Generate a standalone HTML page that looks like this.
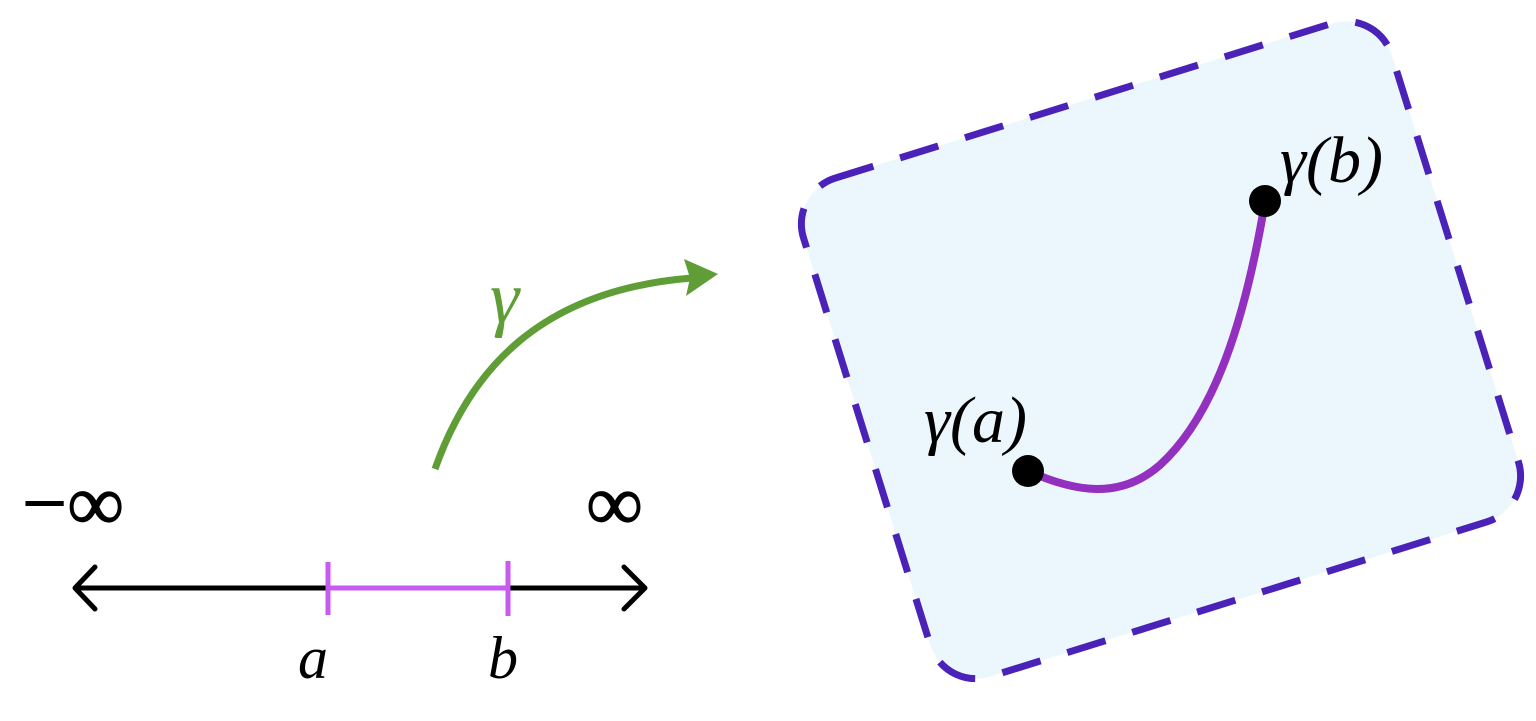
<!DOCTYPE html>
<html><head><meta charset="utf-8"><style>
html,body{margin:0;padding:0;background:#fff;}
svg{display:block;}
text{font-family:"Liberation Serif","DejaVu Serif",serif;}
</style></head><body>
<svg width="1536" height="721" viewBox="0 0 1536 721" xmlns="http://www.w3.org/2000/svg">
  <g transform="translate(1161,350) rotate(-17.3)">
    <rect x="-308" y="-261" width="616" height="522" rx="48" ry="48" fill="#ecf7fd" stroke="#4a22b8" stroke-width="7" stroke-dasharray="40 28"/>
  </g>
  <path d="M1028,471 C1075,492 1120,500 1160,465 C1215,415 1245,320 1265,202" fill="none" stroke="#9430bf" stroke-width="8" stroke-linecap="round"/>
  <circle cx="1028" cy="471" r="16" fill="#000"/>
  <circle cx="1265" cy="201" r="16" fill="#000"/>
  <text x="924" y="442" font-size="66" font-style="italic">γ(a)</text>
  <text x="1280" y="182" font-size="66" font-style="italic">γ(b)</text>

  <path d="M435,469 C470,370 540,290 692,278" fill="none" stroke="#5f9e36" stroke-width="7"/>
  <polygon points="718,274 684,259 690,278 686,296" fill="#5f9e36"/>
  <text x="490" y="322" font-size="74" font-style="italic" fill="#5f9e36">γ</text>

  <line x1="74" y1="588" x2="644" y2="588" stroke="#000" stroke-width="5"/>
  <polyline points="95,567 75,588 95,609" fill="none" stroke="#000" stroke-width="5" stroke-linecap="round" stroke-linejoin="round"/>
  <polyline points="624,567 645,588 624,609" fill="none" stroke="#000" stroke-width="5" stroke-linecap="round" stroke-linejoin="round"/>
  <line x1="328" y1="588" x2="508" y2="588" stroke="#c95af0" stroke-width="5"/>
  <line x1="328" y1="562" x2="328" y2="615" stroke="#c95af0" stroke-width="5"/>
  <line x1="508" y1="561" x2="508" y2="616" stroke="#c95af0" stroke-width="5"/>
  <text x="22" y="530" font-size="80" stroke="#000" stroke-width="1">−∞</text>
  <text x="586" y="530" font-size="80" stroke="#000" stroke-width="1">∞</text>
  <text x="298" y="678" font-size="60" font-style="italic">a</text>
  <text x="488" y="678" font-size="60" font-style="italic">b</text>
</svg>
</body></html>
